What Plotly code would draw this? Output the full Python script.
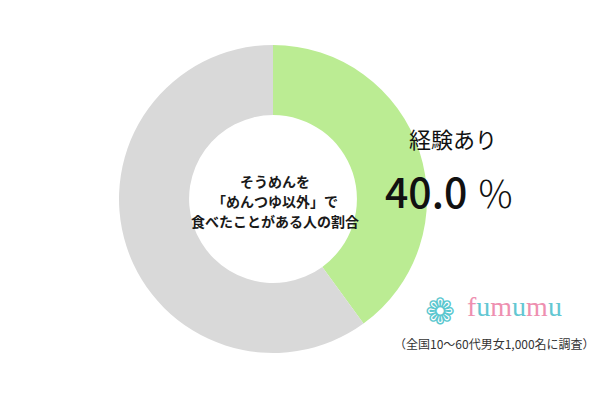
import plotly.graph_objects as go

labels = ["経験あり", "経験なし"]
values = [40.0, 60.0]
colors = ["#bbec93", "#d9d9d9"]
center_lines = ["そうめんを", "「めんつゆ以外」で", "食べたことがある人の割合"]
label_text = "経験あり"
value_text = "40.0"
note_text = "（全国10～60代男女1,000名に調査）"

W, H = 600, 400
cx, cy, r = 273, 199, 154

fig = go.Figure(go.Pie(
    labels=labels, values=values,
    marker=dict(colors=colors, line=dict(width=0)),
    hole=0.545, sort=False, direction="clockwise", rotation=0,
    textinfo="none", hoverinfo="label+percent",
    domain=dict(x=[(cx - r) / W, (cx + r) / W], y=[(H - cy - r) / H, (H - cy + r) / H]),
))

font_jp = "Noto Sans CJK JP"
ann = []
for i, line in enumerate(center_lines):
    ann.append(dict(x=(cx + 2) / W, y=1 - (181 + 20 * i) / H, xref="paper", yref="paper",
                    text=line, showarrow=False,
                    font=dict(family=font_jp, size=14, color="#1a1a1a", weight=600),
                    align="center", xanchor="center", yanchor="middle"))
ann.append(dict(x=453 / W, y=1 - 138 / H, xref="paper", yref="paper", text=label_text,
                showarrow=False, font=dict(family=font_jp, size=22, color="#111"),
                xanchor="center", yanchor="middle"))
ann.append(dict(x=383 / W, y=1 - 190 / H, xref="paper", yref="paper",
                text=f"{value_text} <span style='font-size:38px;font-weight:300'>％</span>",
                showarrow=False, font=dict(family=font_jp, size=41, color="#111", weight=500),
                xanchor="left", yanchor="middle"))
ann.append(dict(x=440 / W, y=1 - 311 / H, xref="paper", yref="paper", text="❁",
                showarrow=False, font=dict(family="DejaVu Sans", size=36, color="#5cc8d0"),
                xanchor="center", yanchor="middle"))
pink, teal = "#ee8fb0", "#63c7d2"
logo = "".join(f"<span style='color:{pink if i % 2 == 0 else teal}'>{c}</span>"
               for i, c in enumerate("fumumu"))
ann.append(dict(x=465 / W, y=1 - 306 / H, xref="paper", yref="paper", text=logo,
                showarrow=False, font=dict(family="Liberation Serif", size=28),
                xanchor="left", yanchor="middle"))
ann.append(dict(x=494 / W, y=1 - 343 / H, xref="paper", yref="paper", text=note_text,
                showarrow=False, font=dict(family=font_jp, size=12, color="#333"),
                xanchor="center", yanchor="middle"))

fig.update_layout(width=W, height=H, margin=dict(l=0, r=0, t=0, b=0),
                  paper_bgcolor="white", plot_bgcolor="white", showlegend=False,
                  annotations=ann)
fig.write_html("out.html", config={"displayModeBar": False},
               post_script="document.body.style.margin='0';document.body.style.overflow='hidden';")
